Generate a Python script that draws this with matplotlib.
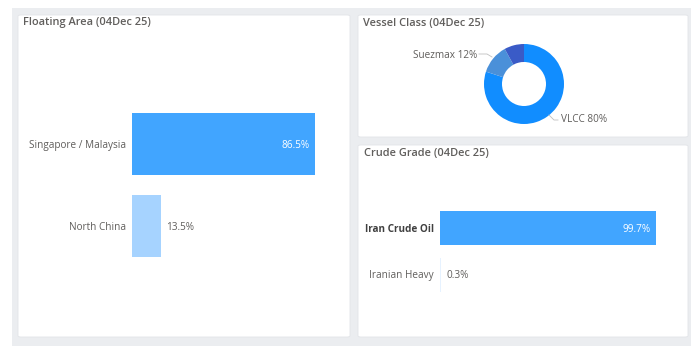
import matplotlib.pyplot as plt
from matplotlib.patches import Rectangle, FancyBboxPatch

plt.rcParams['font.family'] = ['Open Sans', 'DejaVu Sans']

# data
area_names  = ['Singapore / Malaysia', 'North China']
area_share  = [86.5, 13.5]
vessel_names = ['VLCC', 'Suezmax', 'Aframax']
vessel_share = [80, 12, 8]
grade_names = ['Iran Crude Oil', 'Iranian Heavy']
grade_share = [99.7, 0.3]

W, H = 700, 350
fig = plt.figure(figsize=(7, 3.5), dpi=100, facecolor='white')

def box(x0, y0, x1, y1):
    # pixel box (top-left origin) -> figure fraction rect
    return [x0 / W, 1 - y1 / H, (x1 - x0) / W, (y1 - y0) / H]

# page background and panels (below the axes)
bg = box(12, 8, 691, 346)
fig.patches.append(Rectangle(bg[:2], bg[2], bg[3], transform=fig.transFigure,
                             facecolor='#EBEDF0', edgecolor='none', zorder=-3))
for p in [(18, 15, 350, 337), (358, 15, 688, 137), (358, 145, 688, 337)]:
    r = box(*p)
    fig.patches.append(FancyBboxPatch(r[:2], r[2], r[3], transform=fig.transFigure,
                                      boxstyle='round,pad=0,rounding_size=0.004',
                                      facecolor='white', edgecolor='#E2E4E8',
                                      linewidth=0.6, zorder=-2))

title_kw = dict(fontsize=7.9, color='#605E5C', fontweight='semibold', va='center', ha='left')
fig.text(23 / W, 1 - 23 / H, 'Floating Area (04Dec 25)', **title_kw)
fig.text(363 / W, 1 - 23 / H, 'Vessel Class (04Dec 25)', **title_kw)
fig.text(364 / W, 1 - 154 / H, 'Crude Grade (04Dec 25)', **title_kw)

lab_col = '#605E5C'
fs = 7.2

def hbars(ax, names, vals, colors, step, dy, bold_first=False):
    ys = list(range(len(names)))
    ax.barh(ys, vals, height=step, color=colors, edgecolor='none')
    ax.set_xlim(0, 100)
    ax.axis('off')
    for i, (n, v) in enumerate(zip(names, vals)):
        bold = bold_first and i == 0
        ax.text(-2.8, i + dy, n, ha='right', va='center', fontsize=fs,
                color='#404040' if bold else lab_col, fontweight='bold' if bold else 'normal')
        if v > 50:
            ax.text(v - 2.5, i + dy, f'{v}%', ha='right', va='center', fontsize=fs, color='white')
        else:
            ax.text(v + 2.5, i + dy, f'{v}%', ha='left', va='center', fontsize=fs, color=lab_col)

# floating area bars: centres at 144 and 226 px, 62 px thick
ax1 = fig.add_axes(box(132, 100, 132 + 211.5, 270))
hbars(ax1, area_names, area_share, ['#41A5FF', '#A6D3FF'], 62 / 82, 1.5 / 82)
ax1.set_ylim(1 + 44 / 82, -44 / 82)

# crude grade bars: centres at 228 and 274.5 px, 34 px thick
ax3 = fig.add_axes(box(440, 200, 440 + 216.6, 303))
hbars(ax3, grade_names, grade_share, ['#41A5FF', '#E6F2FF'], 34 / 46.5, 1 / 46.5, bold_first=True)
ax3.set_ylim(1 + 28.5 / 46.5, -28 / 46.5)

# vessel class donut
cx, cy, r = 524, 84, 40
ax2 = fig.add_axes(box(cx - 60, cy - 60, cx + 60, cy + 60))
ax2.pie(vessel_share, colors=['#118DFF', '#4A90D9', '#3A5BC7'], startangle=90,
        counterclock=False, radius=r / 60, wedgeprops=dict(width=18 / 60, edgecolor='none'))
ax2.set_xlim(-1, 1)
ax2.set_ylim(-1, 1)
ax2.set_aspect('equal')
ax2.axis('off')

fig.add_artist(plt.Line2D([479 / W, 487 / W, 492 / W], [1 - 54 / H, 1 - 54 / H, 1 - 57 / H],
                          color='#BFBFBF', linewidth=0.6))
fig.text(477 / W, 1 - 55 / H, f'{vessel_names[1]} {vessel_share[1]}%', ha='right', va='center',
         fontsize=fs, color=lab_col)
fig.add_artist(plt.Line2D([549 / W, 554 / W, 558 / W], [1 - 115 / H, 1 - 120 / H, 1 - 120 / H],
                          color='#BFBFBF', linewidth=0.6))
fig.text(561 / W, 1 - 120 / H, f'{vessel_names[0]} {vessel_share[0]}%', ha='left', va='center',
         fontsize=fs, color=lab_col)

fig.savefig('out.png', dpi=100, facecolor='white')
